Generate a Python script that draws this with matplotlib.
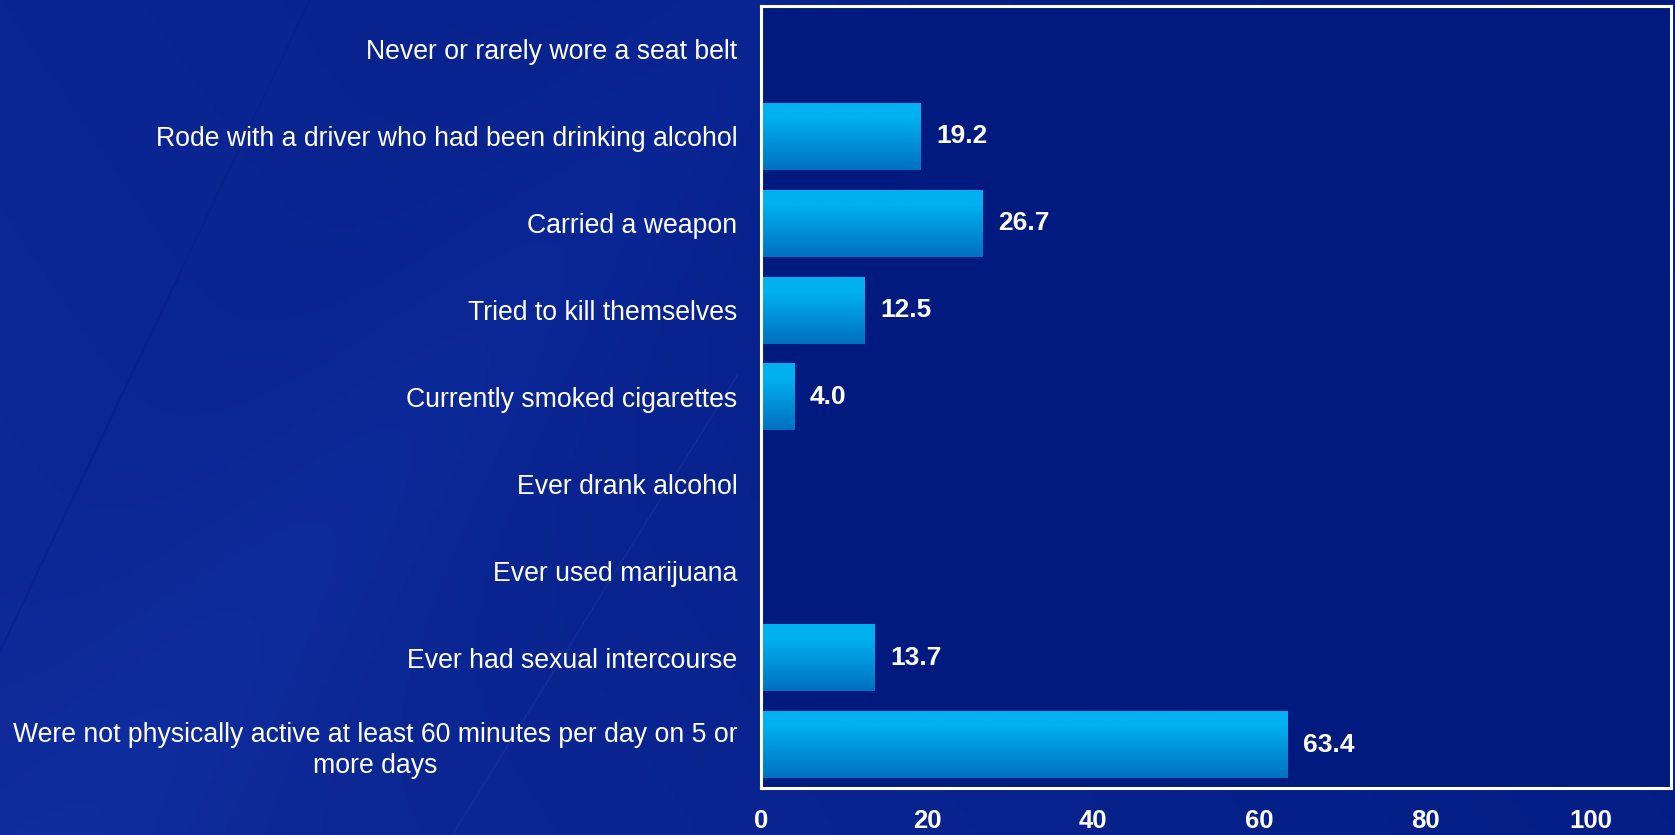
import numpy as np
import matplotlib.pyplot as plt
from matplotlib.colors import LinearSegmentedColormap

plt.rcParams['font.family'] = ['Liberation Sans', 'DejaVu Sans']

# Data
categories = [
    "Never or rarely wore a seat belt",
    "Rode with a driver who had been drinking alcohol",
    "Carried a weapon",
    "Tried to kill themselves",
    "Currently smoked cigarettes",
    "Ever drank alcohol",
    "Ever used marijuana",
    "Ever had sexual intercourse",
    "Were not physically active at least 60 minutes per day on 5 or\nmore days",
]
values = [np.nan, 19.2, 26.7, 12.5, 4.0, np.nan, np.nan, 13.7, 63.4]
xticks = [0, 20, 40, 60, 80, 100]

fig = plt.figure(figsize=(16.75, 8.35), dpi=100)

# background: blue gradient with faint diagonal streaks
bg = fig.add_axes([0, 0, 1, 1], zorder=-1)
h, w = 200, 400
yy, xx = np.mgrid[0:h, 0:w]
xn, yn = xx / w, yy / h
base = np.clip(0.75 * xn + 0.25 * (1 - yn), 0, 1)
light = np.array([14, 42, 152]) / 255
dark = np.array([1, 26, 128]) / 255
img = light[None, None, :] * (1 - base[..., None]) + dark[None, None, :] * base[..., None]
# lighter diagonal band
band = np.exp(-((xn * 2.2 + yn * 0.9 - 1.0) ** 2) / 0.04) * 0.03
img = np.clip(img + band[..., None] * np.array([0.3, 0.5, 1.0]), 0, 1)
bg.imshow(img, extent=[0, 1, 0, 1], aspect='auto', origin='upper')
bg.plot([0.0, 0.185], [0.22, 1.0], color='#0a1e86', lw=1.5, alpha=0.6)
bg.plot([0.27, 0.44], [0.0, 0.55], color='#1a3aa8', lw=1.2, alpha=0.4)
bg.set_xlim(0, 1)
bg.set_ylim(0, 1)
bg.axis('off')

ax = fig.add_axes([0.4543, 0.0563, 0.5433, 0.9365])
ax.set_facecolor('#001a80')

y = np.arange(len(categories))
bar_h = 0.77
vals = np.nan_to_num(np.array(values, dtype=float))
bars = ax.barh(y, vals, height=bar_h, color='none', edgecolor='none')

grad_cmap = LinearSegmentedColormap.from_list(
    'bar', [(0.0, '#00b0f0'), (0.22, '#00b0f0'), (1.0, '#0070c0')])
grad = np.linspace(0, 1, 100).reshape(-1, 1)
for yi, v in zip(y, values):
    if np.isnan(v):
        continue
    ax.imshow(grad, cmap=grad_cmap, aspect='auto', origin='upper',
              extent=[0, v, yi + bar_h / 2, yi - bar_h / 2], zorder=2)
    ax.text(v + 1.9, yi, f"{v:.1f}", va='center', ha='left', color='white',
            fontsize=19, fontweight='bold', zorder=3)

ax.set_xlim(0, 109.6)
ax.set_ylim(len(categories) - 0.5, -0.5)
ax.set_xticks(xticks)
ax.set_xticklabels([str(t) for t in xticks], color='white', fontsize=18.5,
                   fontweight='bold')
ax.set_yticks(y)
ax.set_yticklabels(categories, color='white', fontsize=19.2,
                   multialignment='center', linespacing=1.25)
ax.tick_params(axis='x', length=0, pad=15)
ax.tick_params(axis='y', length=0, pad=17)
for s in ax.spines.values():
    s.set_color('white')
    s.set_linewidth(2.2)

fig.savefig('out.png', dpi=100)
